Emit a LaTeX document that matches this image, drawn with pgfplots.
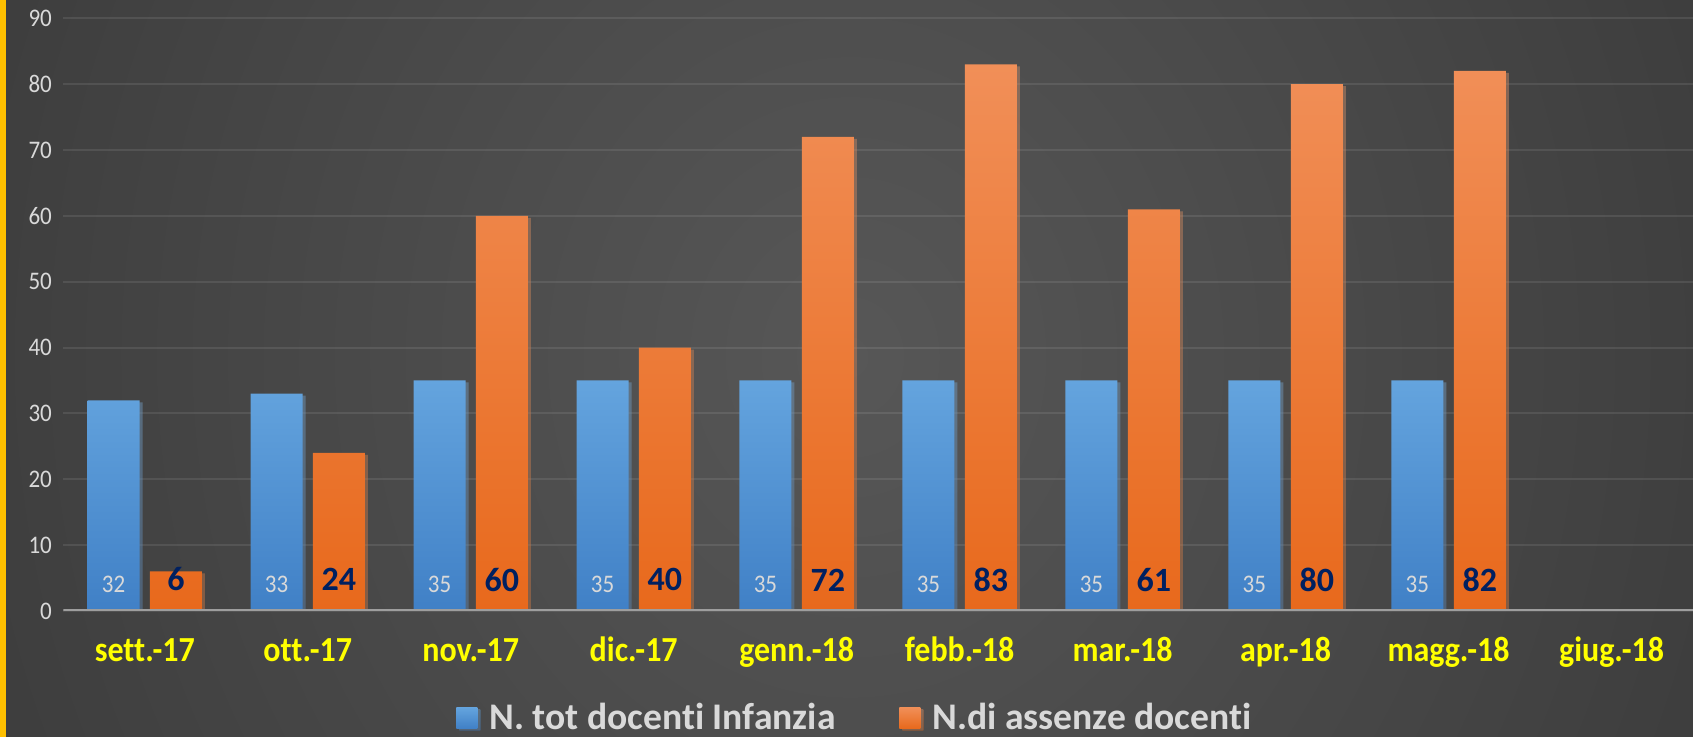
\documentclass[border=0pt]{standalone}
\usepackage{graphicx}
\usepackage{pgfplots}
\pgfplotsset{compat=1.18}
\usepackage{fontspec}
\setmainfont{Carlito}[Ligatures={NoCommon}]
\usetikzlibrary{shadows}
\newcommand\vs[1]{\scalebox{1}[1.1]{#1}}
\definecolor{bgdark}{HTML}{2A2A2A}
\definecolor{bglight}{HTML}{575757}
\definecolor{lgray}{HTML}{D9D9D9}
\definecolor{navy}{HTML}{002060}
\definecolor{bluetop}{HTML}{64A4DE}
\definecolor{bluebot}{HTML}{4080C6}
\definecolor{orgtop}{HTML}{F18F58}
\definecolor{orgbot}{HTML}{E8691C}
\definecolor{edgeyellow}{HTML}{FFC000}
\definecolor{ticky}{HTML}{FFFF00}
\begin{document}
\begin{tikzpicture}
\useasboundingbox (0,0) rectangle (846.5pt,368.5pt);
\begin{scope}
\clip (0,0) rectangle (846.5pt,368.5pt);
\fill[bgdark] (0,0) rectangle (846.5pt,368.5pt);
\shade[inner color=bglight, outer color=bgdark] (425pt,190pt) ellipse (800pt and 900pt);
\fill[edgeyellow] (0,0) rectangle (3pt,368.5pt);
\end{scope}
\begin{axis}[
  at={(31.65pt,63pt)}, anchor=south west,
  scale only axis, width=814.85pt, height=296.35pt,
  xmin=-0.5, xmax=9.5, ymin=0, ymax=90,
  /pgf/number format/assume math mode=true,
  axis line style={draw=none},
  major tick length=0pt,
  ytick={0,10,...,90},
  yticklabel={\vs{\pgfmathprintnumber{\tick}}},
  ymajorgrids,
  grid style={draw=white, draw opacity=0.09, line width=1pt},
  xtick={0,...,9},
  xticklabels={\vs{sett.-17}, \vs{ott.-17}, \vs{nov.-17}, \vs{dic.-17}, \vs{genn.-18}, \vs{febb.-18}, \vs{mar.-18}, \vs{apr.-18}, \vs{magg.-18}, \vs{giug.-18}},
  xticklabel style={font=\fontsize{16}{16}\selectfont\bfseries, text=ticky, anchor=base, yshift=-25.5pt},
  yticklabel style={font=\fontsize{11.5}{12}\selectfont, text=lgray, anchor=east, inner sep=0pt, xshift=-5.5pt},
  legend style={at={(0.4864,-0.1805)}, anchor=center, draw=none, fill=none, legend columns=2,
    font=\fontsize{18.8}{19}\selectfont\bfseries, text=lgray,
    /tikz/every even column/.append style={column sep=30pt},
    /tikz/every odd column/.append style={column sep=4pt}},
]
\addplot[ybar, bar width=26pt, bar shift=-15.6pt, draw=none,
  top color=bluetop, bottom color=bluebot,
  drop shadow={shadow xshift=1.5pt, shadow yshift=-1pt, opacity=0.3},
  nodes near coords={\vs{\pgfmathprintnumber{\pgfplotspointmeta}}},
  visualization depends on={y \as \rawy},
  every node near coord/.append style={font=\fontsize{11.5}{12}\selectfont, text=lgray, anchor=base, xshift=-15.6pt, yshift={9pt-\rawy*3.29278pt}},
  legend image code/.code={\shade[top color=bluetop,bottom color=bluebot] (0pt,-5.25pt) rectangle (10.5pt,5.25pt);}
] coordinates {(0,32) (1,33) (2,35) (3,35) (4,35) (5,35) (6,35) (7,35) (8,35)};
\addlegendentry{N. tot docenti Infanzia}
\addplot[ybar, bar width=26pt, bar shift=15.6pt, draw=none,
  top color=orgtop, bottom color=orgbot,
  drop shadow={shadow xshift=1.5pt, shadow yshift=-1pt, opacity=0.3},
  nodes near coords,
  visualization depends on={y \as \rawy},
  every node near coord/.append style={font=\fontsize{17}{17}\selectfont\bfseries, text=navy, anchor=base, xshift=15.6pt, yshift={10pt-\rawy*3.29278pt}},
  legend image code/.code={\shade[top color=orgtop,bottom color=orgbot] (0pt,-5.25pt) rectangle (10.5pt,5.25pt);}
] coordinates {(0,6) (1,24) (2,60) (3,40) (4,72) (5,83) (6,61) (7,80) (8,82)};
\addlegendentry{N.di assenze docenti}
\draw[color=white!62!black, line width=1.5pt] (axis cs:-0.5,0) -- (axis cs:9.5,0);
\end{axis}
\end{tikzpicture}
\end{document}
